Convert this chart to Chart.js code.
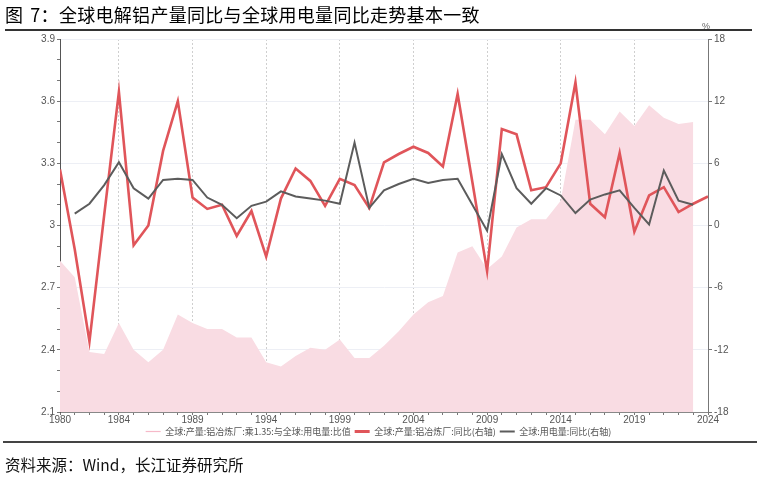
<!DOCTYPE html>
<html>
<head>
<meta charset="utf-8">
<script src="https://cdn.jsdelivr.net/npm/chart.js@4"></script>
<style>
  html, body { margin: 0; padding: 0; background: #fff; }
  body { width: 757px; height: 479px; position: relative; overflow: hidden; font-family: "Noto Sans CJK SC", "Liberation Sans", sans-serif; }
  #title { position: absolute; left: 5px; top: 1px; font-size: 18px; letter-spacing: 0.3px; color: #000; line-height: 26px; white-space: nowrap; }
  #title .sp { display: inline-block; width: 7px; }
  #rule1 { position: absolute; left: 5px; width: 747px; top: 29px; height: 2px; background: #333; }
  #rule2 { position: absolute; left: 3px; width: 754px; top: 441px; height: 1.5px; background: #444; }
  #footer { position: absolute; left: 5px; top: 453px; font-size: 15.5px; color: #111; line-height: 22px; white-space: nowrap; }
  #unit { position: absolute; left: 702px; top: 21px; font-size: 9px; color: #666; font-family: "Liberation Sans", sans-serif; }
  #wrap { position: absolute; left: 0; top: 0; width: 757px; height: 479px; }
</style>
</head>
<body>
<div id="wrap"><canvas id="c" width="757" height="479"></canvas></div>
<div id="title">图<span class="sp"></span>7：全球电解铝产量同比与全球用电量同比走势基本一致</div>
<div id="rule1"></div>
<div id="unit">%</div>
<div id="rule2"></div>
<div id="footer">资料来源：Wind，长江证券研究所</div>
<script>
// ---- data ----
const years = [1980,1981,1982,1983,1984,1985,1986,1987,1988,1989,1990,1991,1992,1993,1994,1995,1996,1997,1998,1999,2000,2001,2002,2003,2004,2005,2006,2007,2008,2009,2010,2011,2012,2013,2014,2015,2016,2017,2018,2019,2020,2021,2022,2023,2024];

// 全球:产量:铝冶炼厂:乘1.35:与全球:用电量:比值 (left axis), 1980-2023
const ratioValues = [2.83,2.75,2.39,2.38,2.53,2.40,2.34,2.40,2.57,2.53,2.50,2.50,2.46,2.46,2.34,2.32,2.37,2.41,2.40,2.45,2.36,2.36,2.42,2.49,2.57,2.63,2.66,2.87,2.90,2.79,2.85,2.99,3.03,3.03,3.12,3.51,3.51,3.44,3.55,3.48,3.58,3.52,3.49,3.50,null];

// 全球:产量:铝冶炼厂:同比 (right axis), 1980-2024
const aluminumYoY = [5.4,-2.3,-11.2,1.0,12.9,-1.9,0.0,7.2,12.0,2.7,1.6,2.0,-1.0,1.4,-3.0,2.6,5.5,4.3,1.9,4.5,3.9,1.7,6.1,6.9,7.6,7.0,5.7,12.7,4.2,-4.4,9.3,8.8,3.4,3.7,6.0,13.8,2.1,0.8,7.0,-0.6,2.9,3.7,1.3,2.1,2.8];

// 全球:用电量:同比 (right axis), 1981-2023
const powerYoY = [null,1.15,2.1,3.9,6.1,3.6,2.6,4.4,4.5,4.4,2.7,2.0,0.7,1.9,2.3,3.3,2.8,2.6,2.4,2.1,8.0,1.7,3.4,4.0,4.5,4.1,4.4,4.5,2.0,-0.5,6.9,3.6,2.1,3.6,2.9,1.2,2.5,3.0,3.4,1.7,0.1,5.3,2.4,2.0,null];

const seriesNames = ['全球:产量:铝冶炼厂:乘1.35:与全球:用电量:比值','全球:产量:铝冶炼厂:同比(右轴)','全球:用电量:同比(右轴)'];
const xTickLabels = [1980,1984,1989,1994,1999,2004,2009,2014,2019,2024];
const leftTickLabels = ['2.1','2.4','2.7','3','3.3','3.6','3.9'];
const rightTickLabels = ['-18','-12','-6','0','6','12','18'];

const toXY = arr => years.map((yr, i) => ({x: yr, y: arr[i]}));

const tickFont = {family: '"Liberation Sans", "DejaVu Sans", sans-serif', size: 10};

new Chart(document.getElementById('c'), {
  type: 'line',
  data: {
    datasets: [
      {
        label: seriesNames[0], data: toXY(ratioValues), yAxisID: 'y',
        borderColor: '#F7C9D4', backgroundColor: '#F9DCE3', borderWidth: 0,
        fill: 'start', pointRadius: 0, tension: 0, order: 3
      },
      {
        label: seriesNames[1], data: toXY(aluminumYoY), yAxisID: 'y1',
        borderColor: '#E0555A', backgroundColor: '#E0555A', borderWidth: 2.6,
        fill: false, pointRadius: 0, tension: 0, order: 2
      },
      {
        label: seriesNames[2], data: toXY(powerYoY), yAxisID: 'y1',
        borderColor: '#5C5C5C', backgroundColor: '#5C5C5C', borderWidth: 2,
        fill: false, pointRadius: 0, tension: 0, order: 1
      }
    ]
  },
  options: {
    responsive: false,
    animation: false,
    devicePixelRatio: 1,
    layout: { padding: { top: 39, left: 0, right: 0, bottom: 33 } },
    plugins: {
      tooltip: { enabled: false },
      legend: {
        position: 'bottom',
        labels: {
          usePointStyle: true, pointStyle: 'line', pointStyleWidth: 15,
          font: { family: '"Noto Sans CJK SC", sans-serif', size: 9 },
          color: '#555', padding: 4,
          generateLabels: chart => chart.data.datasets.map((ds, i) => ({
            text: ds.label,
            fillStyle: i === 0 ? '#F6B9C8' : ds.borderColor,
            strokeStyle: i === 0 ? '#F6B9C8' : ds.borderColor,
            lineWidth: i === 0 ? 1.2 : (i === 1 ? 3 : 2),
            pointStyle: 'line',
            fontColor: '#555',
            hidden: false,
            datasetIndex: i
          }))
        }
      }
    },
    scales: {
      x: {
        type: 'linear', min: 1980, max: 2024,
        afterBuildTicks: s => { s.ticks = years.map(v => ({value: v})); },
        afterFit: s => { s.height = 11; },
        ticks: {
          autoSkip: false, maxRotation: 0, padding: -1, color: '#555', font: tickFont,
          callback: v => xTickLabels.includes(v) ? String(v) : ''
        },
        grid: {
          drawOnChartArea: true, tickLength: 3, tickColor: '#777', tickWidth: 1,
          color: ctx => {
            const v = ctx.tick && ctx.tick.value;
            return (xTickLabels.includes(v) && v !== 1980 && v !== 2024) ? '#CFCFCF' : 'rgba(0,0,0,0)';
          },
          lineWidth: 1
        },
        border: { display: true, color: '#888', width: 1, dash: [2, 2] }
      },
      y: {
        type: 'linear', position: 'left', min: 2.1, max: 3.9,
        afterBuildTicks: s => { const t = []; for (let i = 0; i <= 18; i++) t.push({value: (21 + i) / 10}); s.ticks = t; },
        afterFit: s => { s.width = 60; },
        ticks: {
          autoSkip: false, padding: 2, color: '#555', font: tickFont,
          callback: v => { const s = String(Math.round(v * 10) / 10); return leftTickLabels.includes(s) ? s : ''; }
        },
        grid: {
          tickLength: 3, tickColor: '#777',
          color: ctx => {
            const v = ctx.tick && ctx.tick.value;
            const s = String(Math.round(v * 10) / 10);
            return leftTickLabels.includes(s) ? '#EDEFF5' : 'rgba(0,0,0,0)';
          }
        },
        border: { display: true, color: '#555', width: 1 }
      },
      y1: {
        type: 'linear', position: 'right', min: -18, max: 18,
        afterBuildTicks: s => { s.ticks = rightTickLabels.map(t => ({value: Number(t)})); },
        afterFit: s => { s.width = 49; },
        ticks: {
          autoSkip: false, padding: 2, color: '#555', font: tickFont,
          callback: v => String(v)
        },
        grid: { drawOnChartArea: false, tickLength: 4, tickColor: '#777' },
        border: { display: true, color: '#777', width: 1 }
      }
    }
  }
});
</script>
</body>
</html>
